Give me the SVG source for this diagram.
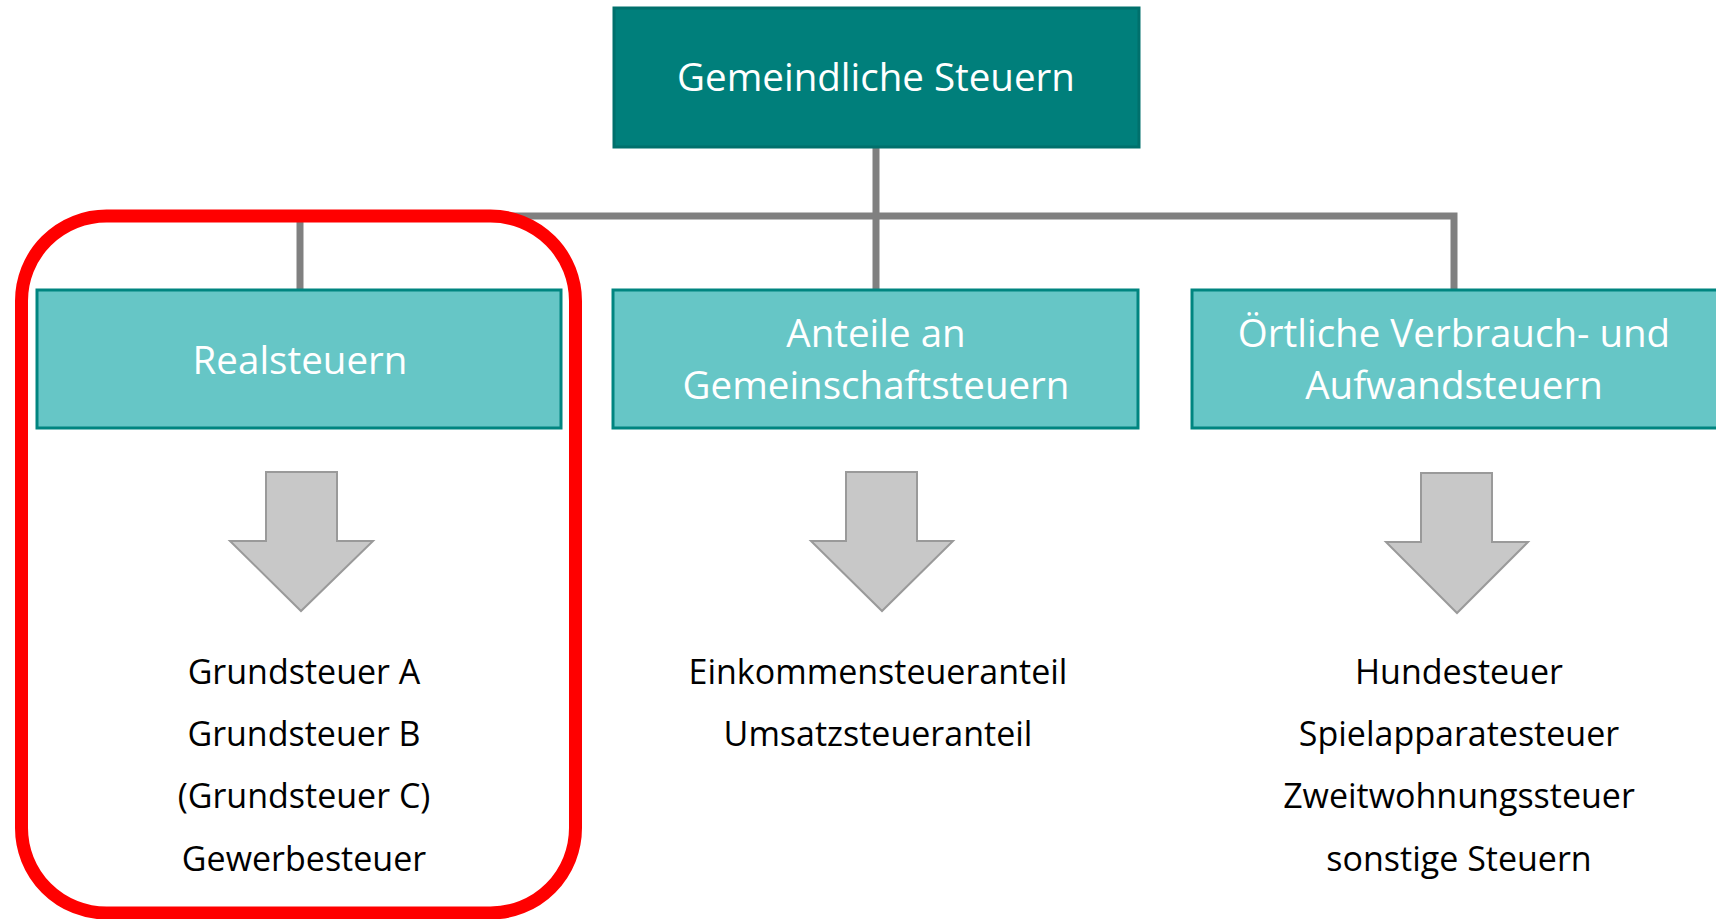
<svg xmlns="http://www.w3.org/2000/svg" width="1716" height="919" viewBox="0 0 1716 919">
<style>
.top{fill:#007f7b;stroke:#00706c;stroke-width:3}
.cat{fill:#66c6c6;stroke:#008580;stroke-width:3}
.hd{font-family:"Open Sans","Liberation Sans",sans-serif;fill:#ffffff;text-anchor:middle;font-size:38.5px}
.it{font-family:"Open Sans","Liberation Sans",sans-serif;fill:#000000;text-anchor:middle;font-size:34px}
.arr{fill:#c8c8c8;stroke:#9a9a9a;stroke-width:2}
.conn{fill:none;stroke:#808080;stroke-width:7}
</style>
<g id="connectors">
<path class="conn" d="M876 147 V289"/>
<path class="conn" d="M300 216 H1454 V289"/>
<path class="conn" d="M300 216 V289"/>
</g>
<g id="n-top">
<rect class="top" x="614" y="8" width="525" height="139"/>
<text class="hd" x="876" y="91">Gemeindliche Steuern</text>
</g>
<g id="n-real">
<rect class="cat" x="37" y="290" width="524" height="138"/>
<text class="hd" x="300" y="374">Realsteuern</text>
<polygon class="arr" points="266,472 337,472 337,541 373,541 301,611 230,541 266,541"/>
<text class="it" x="304" y="684">Grundsteuer A</text>
<text class="it" x="304" y="746">Grundsteuer B</text>
<text class="it" x="304" y="808">(Grundsteuer C)</text>
<text class="it" x="304" y="871">Gewerbesteuer</text>
</g>
<g id="n-anteile">
<rect class="cat" x="613" y="290" width="525" height="138"/>
<text class="hd" x="876" y="347">Anteile an</text>
<text class="hd" x="876" y="399">Gemeinschaftsteuern</text>
<polygon class="arr" points="846,472 917,472 917,541 953,541 882,611 811,541 846,541"/>
<text class="it" x="878" y="684">Einkommensteueranteil</text>
<text class="it" x="878" y="746">Umsatzsteueranteil</text>
</g>
<g id="n-oertlich">
<rect class="cat" x="1192" y="290" width="530" height="138"/>
<text class="hd" x="1454" y="347">Örtliche Verbrauch- und</text>
<text class="hd" x="1454" y="399">Aufwandsteuern</text>
<polygon class="arr" points="1421,473 1492,473 1492,542 1528,542 1457,613 1386,542 1421,542"/>
<text class="it" x="1459" y="684">Hundesteuer</text>
<text class="it" x="1459" y="746">Spielapparatesteuer</text>
<text class="it" x="1459" y="808">Zweitwohnungssteuer</text>
<text class="it" x="1459" y="871">sonstige Steuern</text>
</g>
<g id="highlight">
<rect x="21.5" y="216" width="554" height="697" rx="85" ry="85" fill="none" stroke="#ff0000" stroke-width="13"/>
</g>
</svg>
